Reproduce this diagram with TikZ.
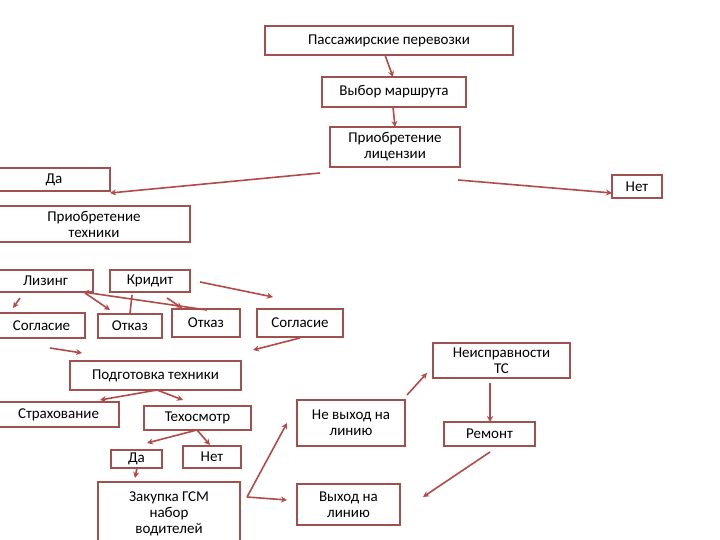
\documentclass[tikz,border=0pt]{standalone}
\usepackage{fontspec}
\setmainfont{Carlito}
\usetikzlibrary{arrows.meta}
\definecolor{boxc}{HTML}{A0504D}
\definecolor{arrc}{HTML}{B24A48}
\newcommand\bx[6]{\node[bxs,minimum width={#4-#2},minimum height={#5-#3}] (#1) at ({(#2+#4)/2},{(#3+#5)/2}) {#6};}
\begin{document}
\begin{tikzpicture}[x=1pt,y=-1pt,
  bxs/.style={draw=boxc,line width=1.6pt,inner sep=0pt,align=center,font=\fontsize{15}{16}\selectfont,text=black,fill=white},
  ar/.style={draw=arrc,line width=1.6pt,-{Stealth[length=6pt,width=6pt]}},
  ln/.style={draw=arrc,line width=1.6pt}]
\useasboundingbox (0,0) rectangle (720,540);
\bx{a}{265}{26}{513}{55}{Пассажирские перевозки}
\bx{b}{322}{77}{466}{107}{Выбор маршрута}
\bx{c}{330}{127}{460}{167}{Приобретение\\лицензии}
\bx{da}{-2}{168}{110}{191}{Да}
\bx{net}{612}{175}{662}{198}{Нет}
\bx{teh}{-2}{206}{190}{242}{Приобретение\\техники}
\bx{liz}{-2}{270}{93}{292}{Лизинг}
\bx{kr}{110}{270}{190}{292}{Кридит}
\bx{sog1}{-2}{313}{85}{338}{Согласие}
\bx{ot1}{98}{314}{162}{338}{Отказ}
\bx{ot2}{172}{309}{240}{337}{Отказ}
\bx{sog2}{257}{309}{343}{337}{Согласие}
\bx{neis}{433}{343}{570}{378}{Неисправности\\ТС}
\bx{pod}{70}{361}{241}{390}{Подготовка техники}
\bx{str}{-2}{402}{119}{427}{Страхование}
\bx{tos}{144}{406}{251}{430}{Техосмотр}
\bx{nev}{297}{400}{405}{446}{Не выход на\\линию}
\bx{rem}{444}{422}{535}{446}{Ремонт}
\bx{da2}{111}{450}{162}{468}{Да}
\bx{net2}{183}{446}{241}{468}{Нет}
\bx{zak}{98}{482}{240}{545}{Закупка ГСМ\\набор\\водителей}
\bx{vyh}{297}{484}{400}{525}{Выход на\\линию}
\foreach \n/\x/\y in {p1/385/55,p2/393/77,p3/393/107,p4/395/127,p5/320/173,p6/110/193,p7/458/180,p8/612/193,
  p9/20/298,p10/13/308,p11/207/310,p12/83/292,p13/85/293,p14/110/310,p15/132/295,p16/130/313,p17/167/298,p18/182/308,
  p19/200/282,p20/273/297,p21/50/348,p22/82/353,p23/300/338,p24/253/350,p25/157/390,p26/100/400,p27/183/400,
  p28/197/430,p29/147/443,p30/210/445,p31/137/468,p32/135/478,p33/247/497,p34/287/423,p35/287/500,
  p36/407/395,p37/427/373,p38/490/383,p39/490/422,p40/490/452,p41/423/497}
  {\coordinate (\n) at (\x,\y);}
\draw[ar] (p1)--(p2); \draw[ar] (p3)--(p4);
\draw[ar] (p5)--(p6); \draw[ar] (p7)--(p8);
\draw[ar] (p9)--(p10); \draw[ar] (p11)--(p12); \draw[ar] (p13)--(p14);
\draw[ln] (p15)--(p16); \draw[ar] (p17)--(p18); \draw[ar] (p19)--(p20);
\draw[ar] (p21)--(p22); \draw[ar] (p23)--(p24);
\draw[ar] (p25)--(p26); \draw[ar] (p25)--(p27);
\draw[ar] (p28)--(p29); \draw[ar] (p28)--(p30);
\draw[ar] (p31)--(p32);
\draw[ar] (p33)--(p34); \draw[ar] (p33)--(p35);
\draw[ar] (p36)--(p37); \draw[ar] (p38)--(p39); \draw[ar] (p40)--(p41);
\end{tikzpicture}
\end{document}
